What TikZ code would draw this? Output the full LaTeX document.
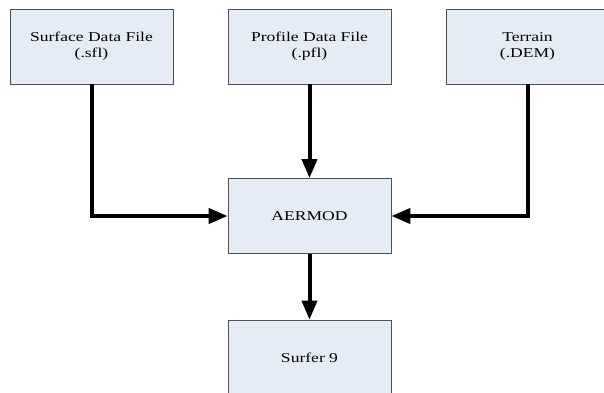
\documentclass[tikz,border=0pt]{standalone}
\usepackage{fontspec}
\setmainfont{Liberation Serif}[FakeStretch=1.3]
\usetikzlibrary{arrows.meta}
\definecolor{boxfill}{RGB}{230,236,246}
\definecolor{boxline}{RGB}{80,80,80}
\tikzstyle{blk} = [rectangle, minimum width=163pt, minimum height=75pt, inner sep=0pt, align=center, text centered, draw=boxline, line width=0.8pt, fill=boxfill, font=\fontsize{13.5pt}{16pt}\selectfont]
\tikzstyle{arrow} = [line width=4pt, -{Triangle[length=19pt,width=15pt]}]

\begin{document}
\begin{tikzpicture}[node distance=218pt]
    \useasboundingbox (0,0) rectangle (604pt,-392pt);
    \clip (0,0) rectangle (604pt,-392pt);

    \node (sfl) [blk] at (91.5pt,-46.5pt) {Surface Data File\\(.sfl)};
    \node (pfl) [blk, right of=sfl] {Profile Data File\\(.pfl)};
    \node (dem) [blk, right of=pfl] {Terrain\\(.DEM)};

    \node (aermod) [blk, below of=pfl, yshift=48.5pt] {AERMOD};
    \node (surfer) [blk, below of=aermod, yshift=76.5pt] {Surfer 9};

    \draw [arrow] (sfl) |- (aermod);
    \draw [arrow] (pfl) -- (aermod);
    \draw [arrow] (dem) |- (aermod);
    \draw [arrow] (aermod) -- (surfer);

\end{tikzpicture}
\end{document}
